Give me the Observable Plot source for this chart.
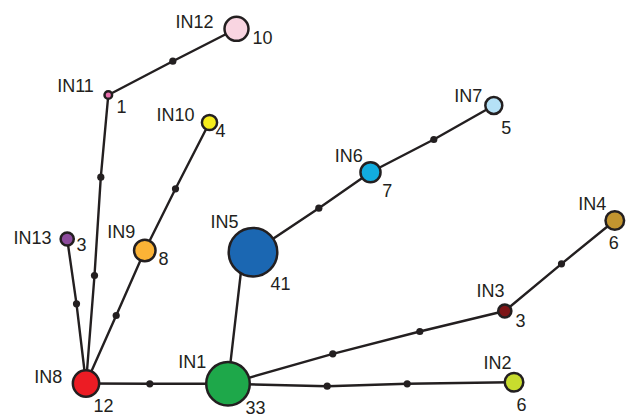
<!DOCTYPE html>
<html>
<head>
<meta charset="utf-8">
<script src="https://cdn.jsdelivr.net/npm/d3@7"></script>
<script src="https://cdn.jsdelivr.net/npm/@observablehq/plot@0.6"></script>
<style>
  html, body { margin: 0; padding: 0; background: #fff; }
  svg { display: block; }
</style>
</head>
<body>
<div id="chart"></div>
<script>
// Haplotypes
const hapNames  = ["IN1","IN2","IN3","IN4","IN5","IN6","IN7","IN8","IN9","IN10","IN11","IN12","IN13"];
const hapCounts = [33, 6, 3, 6, 41, 7, 5, 12, 8, 4, 1, 10, 3];
const hapX      = [227.5, 513.5, 504.3, 614.3, 252.5, 370, 493.3, 85.5, 144.3, 209, 107.8, 236, 66.7];
const hapY      = [383.3, 381.7, 310.5, 220, 251.7, 171.7, 105, 383, 250, 122, 94.5, 28.3, 238.5];
const hapColors = ["#1ea84a","#c8dc2e","#7d1416","#c3952f","#1b67b2","#12acdf","#b5e1f6","#ec1c24","#fbb336","#f6ec1d","#ea6fae","#f9d5e1","#8d4b9d"];

// Name label anchors and count label anchors
const nameLabelX  = [191.7, 497, 490, 591.7, 224, 348.3, 467.7, 47.7, 120.7, 175, 75, 194, 32];
const nameLabelY  = [362, 363, 291, 204, 222, 156, 96, 377, 232, 115, 86, 22, 238];
const countLabelX = [255, 521, 520, 613.3, 280, 386.7, 505.7, 103, 163, 220, 121, 262, 81];
const countLabelY = [408, 405, 321, 243, 284, 190.5, 128, 406, 259, 131, 106.5, 37.5, 245];

// Median vectors (missing intermediate haplotypes)
const mvNames = ["m1","m2","m3","m4","m5","m6","m7","m8","m9","m10","m11","m12","m13","m14"];
const mvX     = [149.3, 326.7, 406.7, 332.3, 419.3, 561, 318.3, 433.3, 115.7, 175, 94, 100.3, 172.3, 76];
const mvY     = [383.3, 385.7, 383.3, 353.3, 331, 263.3, 207.7, 139, 315, 188.3, 275, 176.7, 60.7, 303.3];

// Hidden attachment point (IN1–IN5 link meets IN5 off-centre)
const anchorNames = ["a1"];
const anchorX = [242];
const anchorY = [258];

// Network links as vertex paths
const links = [
  ["IN8","m1","IN1"],
  ["IN1","m2","m3","IN2"],
  ["IN1","m4","m5","IN3"],
  ["IN3","m6","IN4"],
  ["IN1","a1"],
  ["IN5","m7","IN6"],
  ["IN6","m8","IN7"],
  ["IN8","m9","IN9"],
  ["IN9","m10","IN10"],
  ["IN8","m11","m12","IN11"],
  ["IN11","m13","IN12"],
  ["IN8","m14","IN13"]
];

const pos = new Map();
hapNames.forEach((n, i) => pos.set(n, [hapX[i], hapY[i]]));
mvNames.forEach((n, i) => pos.set(n, [mvX[i], mvY[i]]));
anchorNames.forEach((n, i) => pos.set(n, [anchorX[i], anchorY[i]]));

const linkRows = links.flatMap((path, k) => path.map(v => ({link: k, x: pos.get(v)[0], y: pos.get(v)[1]})));
const haps = hapNames.map((n, i) => ({
  name: n, count: hapCounts[i], x: hapX[i], y: hapY[i], color: hapColors[i],
  nx: nameLabelX[i], ny: nameLabelY[i], cx: countLabelX[i], cy: countLabelY[i]
}));
const mvs = mvNames.map((n, i) => ({name: n, x: mvX[i], y: mvY[i]}));

const ink = "#231f20";
const font = "'Liberation Sans', Arial, Helvetica, sans-serif";

const chart = Plot.plot({
  width: 626,
  height: 417,
  margin: 0,
  x: {domain: [0, 626], range: [0, 626], axis: null},
  y: {domain: [0, 417], range: [0, 417], axis: null},
  r: {type: "sqrt", domain: [0, 41], range: [0, 24.3]},
  style: {fontFamily: font, background: "#fff"},
  marks: [
    Plot.line(linkRows, {x: "x", y: "y", z: "link", stroke: ink, strokeWidth: 2.4, curve: "linear"}),
    Plot.dot(mvs, {x: "x", y: "y", r: 3.6, fill: ink, stroke: "none"}),
    Plot.dot(haps, {x: "x", y: "y", r: "count", fill: "color", stroke: ink, strokeWidth: 2.5}),
    Plot.text(haps, {x: "nx", y: "ny", text: "name", fontSize: 18, fill: ink, textAnchor: "middle", lineAnchor: "middle"}),
    Plot.text(haps, {x: "cx", y: "cy", text: d => String(d.count), fontSize: 18, fill: ink, textAnchor: "middle", lineAnchor: "middle"})
  ]
});
document.getElementById("chart").appendChild(chart);
</script>
</body>
</html>
